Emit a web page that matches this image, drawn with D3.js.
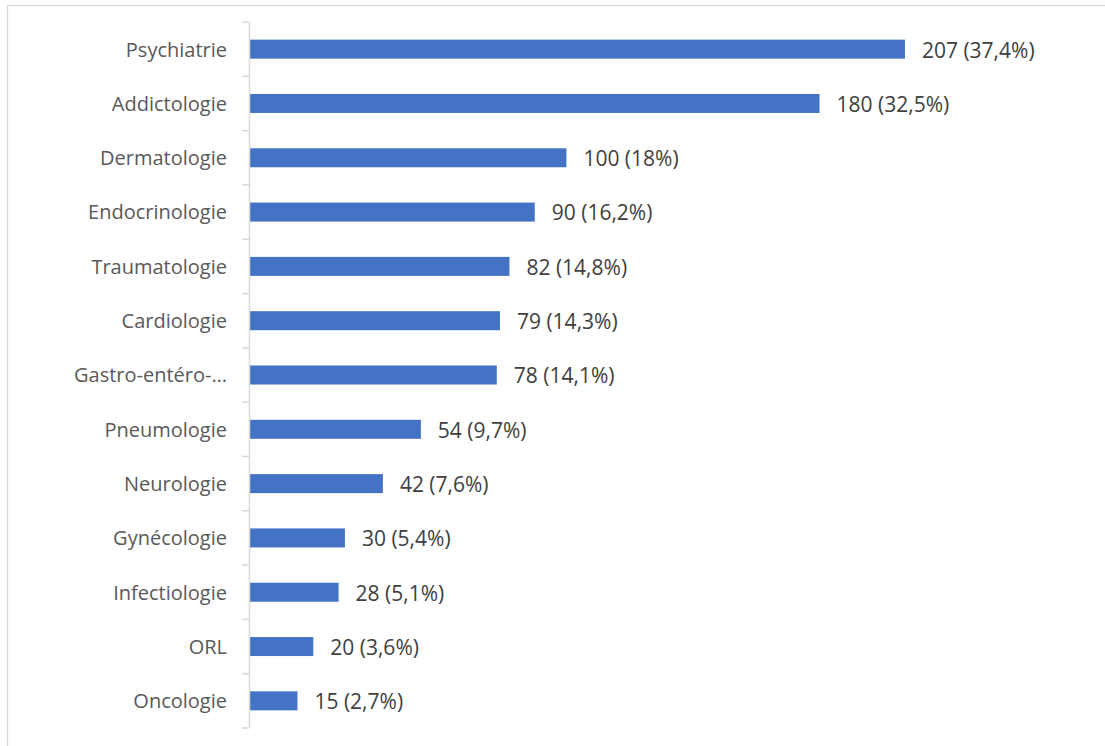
<!DOCTYPE html>
<html>
<head>
<meta charset="utf-8">
<script src="https://cdn.jsdelivr.net/npm/d3@7"></script>
<style>
  html, body { margin: 0; padding: 0; background: #fff; }
  svg { display: block; }
  text { font-family: "Open Sans", "Noto Sans", sans-serif; fill: #595959; }
</style>
</head>
<body>
<script>
// Specialties and patient counts (with share of total)
const categories = ["Psychiatrie", "Addictologie", "Dermatologie", "Endocrinologie", "Traumatologie",
  "Cardiologie", "Gastro-entéro-…", "Pneumologie", "Neurologie", "Gynécologie",
  "Infectiologie", "ORL", "Oncologie"];
const counts = [207, 180, 100, 90, 82, 79, 78, 54, 42, 30, 28, 20, 15];
const percents = ["37,4%", "32,5%", "18%", "16,2%", "14,8%", "14,3%", "14,1%", "9,7%", "7,6%", "5,4%", "5,1%", "3,6%", "2,7%"];

const W = 1105, H = 746;
const margin = { left: 249, top: 22, bottom: 18 };
const fontSize = 20;

const svg = d3.select("body").append("svg").attr("width", W).attr("height", H);

// Chart area frame
svg.append("rect")
  .attr("x", 7.5).attr("y", 5.5)
  .attr("width", W + 10).attr("height", H + 10)
  .attr("fill", "none").attr("stroke", "#d9d9d9").attr("stroke-width", 1.3);

const x = d3.scaleLinear().domain([0, 250]).range([margin.left + 1, margin.left + 1 + 791]);
const y = d3.scaleBand().domain(categories)
  .range([margin.top, H - margin.bottom])
  .paddingInner(0.65).paddingOuter(0.325);

const rows = categories.map((c, i) => ({ cat: c, v: counts[i], p: percents[i] }));

// Bars
svg.append("g").selectAll("rect").data(rows).join("rect")
  .attr("x", x(0))
  .attr("y", d => y(d.cat))
  .attr("width", d => x(d.v) - x(0))
  .attr("height", y.bandwidth())
  .attr("fill", "#4472c4");

// Value labels
svg.append("g").selectAll("text").data(rows).join("text")
  .attr("x", d => x(d.v) + 17)
  .attr("y", d => y(d.cat) + y.bandwidth() / 2 + 1)
  .attr("dy", "0.35em")
  .attr("font-size", fontSize + 1)
  .style("fill", "#404040")
  .text(d => `${d.v} (${d.p})`);

// Category axis
const axis = d3.axisLeft(y).tickSize(0).tickPadding(22);
const gAxis = svg.append("g").attr("transform", `translate(${margin.left},1)`).call(axis);
gAxis.select(".domain").remove();
gAxis.selectAll("text").attr("font-size", fontSize).attr("fill", "#595959")
  .style("font-family", "'Open Sans', 'Noto Sans', sans-serif");

// Axis line and boundary ticks between categories
const y0 = margin.top, y1 = H - margin.bottom;
svg.append("line")
  .attr("x1", margin.left + 0.5).attr("x2", margin.left + 0.5)
  .attr("y1", y0).attr("y2", y1)
  .attr("stroke", "#d9d9d9").attr("stroke-width", 1.5);
const bounds = d3.range(categories.length + 1).map(i => y0 + i * (y1 - y0) / categories.length);
svg.append("g").selectAll("line").data(bounds).join("line")
  .attr("x1", margin.left - 7).attr("x2", margin.left)
  .attr("y1", d => d).attr("y2", d => d)
  .attr("stroke", "#d9d9d9").attr("stroke-width", 1.5);
</script>
</body>
</html>
